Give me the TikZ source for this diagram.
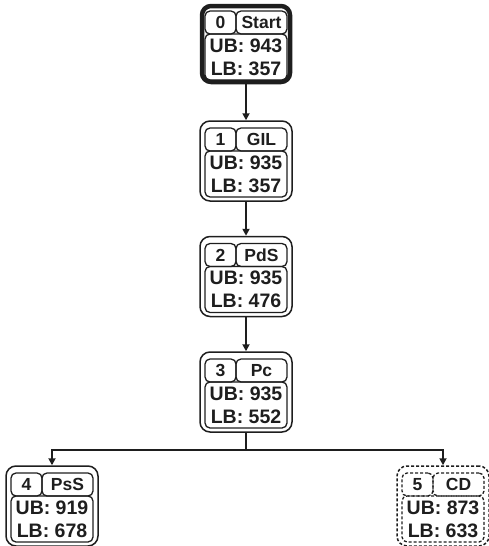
\documentclass[tikz,border=0pt]{standalone}
\usepackage{fontspec}
\setmainfont{Liberation Sans}
\usetikzlibrary{arrows.meta}
\definecolor{ink}{HTML}{1E1E1E}
\tikzset{
  outerbox/.style={draw=ink, line width=1.5pt, rounded corners=10pt, minimum width=92pt, minimum height=80pt, inner sep=0pt},
  startbox/.style={line width=4.5pt, minimum width=88pt, minimum height=76pt, rounded corners=9pt},
  inbox/.style={draw=ink, line width=1.3pt, rounded corners=5pt, inner sep=0pt, text=ink},
  toptext/.style={font=\bfseries\fontsize{17.5}{19}\selectfont},
  valtext/.style={font=\bfseries\fontsize{19.5}{23}\selectfont},
  dsh/.style={dash pattern=on 3pt off 2pt},
  arr/.style={draw=ink, line width=1.8pt, -{Triangle[length=7pt,width=7pt]}},
  ln/.style={draw=ink, line width=1.8pt},
}
\newcommand\bbnode[9]{%
  \begin{scope}[shift={(#2,#3)}]
    \node[outerbox,#8] (#1) at (0,0) {};
    \node[inbox,toptext,#9,minimum width=31pt,minimum height=23pt] (#1num) at (-25.5,21.5) {#4};
    \node[inbox,toptext,#9,minimum width=51pt,minimum height=23pt] (#1lab) at (15.5,21.5) {#5};
    \node[inbox,valtext,#9,minimum width=82pt,minimum height=46pt,align=center] (#1val) at (0,-13) {UB: #6\\LB: #7};
  \end{scope}}
\begin{document}
\begin{tikzpicture}[x=1pt,y=1pt]
\useasboundingbox (0,0) rectangle (489,-546);
\bbnode{n0}{246}{-44}{0}{Start}{943}{357}{startbox}{}
\bbnode{n1}{246}{-161}{1}{GIL}{935}{357}{}{}
\bbnode{n2}{246}{-276.5}{2}{PdS}{935}{476}{}{}
\bbnode{n3}{246}{-392}{3}{Pc}{935}{552}{}{}
\bbnode{n4}{52}{-506}{4}{PsS}{919}{678}{}{}
\bbnode{n5}{443}{-506}{5}{CD}{873}{633}{dsh}{dsh}
\draw[arr] (n0.south) -- (n1.north);
\draw[arr] (n1.south) -- (n2.north);
\draw[arr] (n2.south) -- (n3.north);
\draw[ln] (n3.south) -- ++(0,-17) coordinate (br);
\draw[arr] (br) -| (n4.north);
\draw[arr] (br) -| (n5.north);
\end{tikzpicture}
\end{document}
